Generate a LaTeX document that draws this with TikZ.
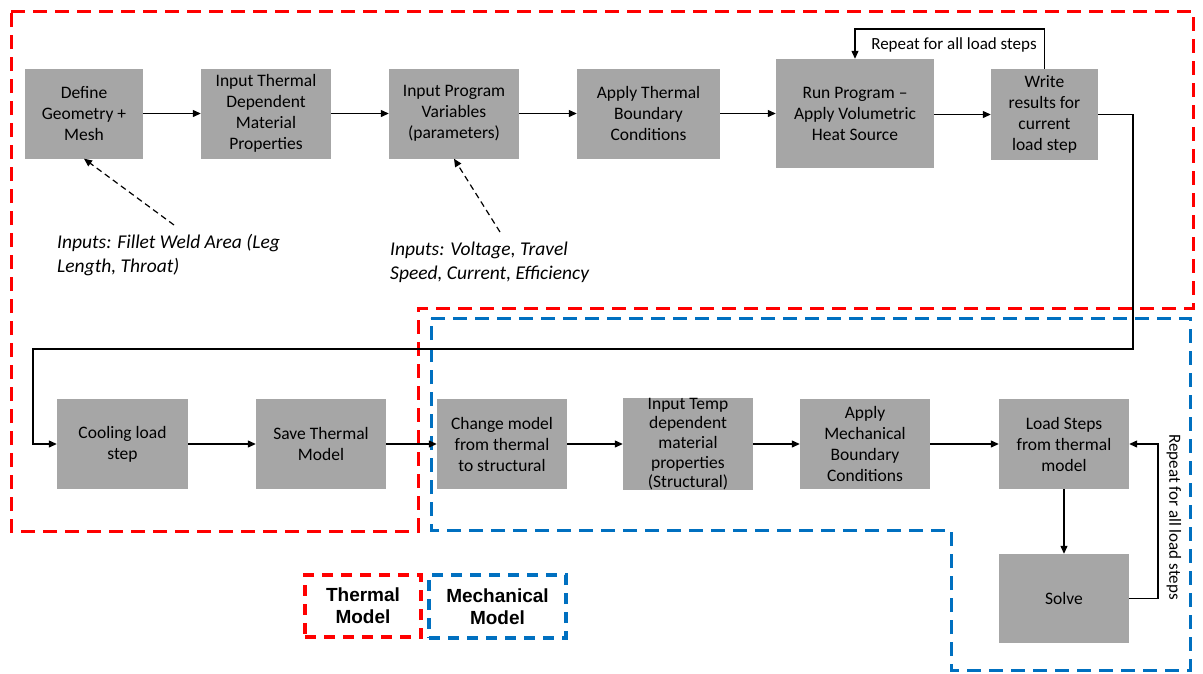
\documentclass[tikz,border=0pt]{standalone}
\usepackage{fontspec}
\setmainfont{Carlito}
\newfontfamily\legendfont{Liberation Sans}
\usetikzlibrary{arrows.meta}
\definecolor{boxgray}{HTML}{A6A6A6}
\definecolor{thermred}{HTML}{FF0000}
\definecolor{mechblue}{HTML}{0070C0}
\begin{document}
\begin{tikzpicture}[x=1pt,y=-1pt,
    stepbox/.style={fill=boxgray, minimum height=90pt, align=center, inner sep=0pt,
                    font=\fontsize{17.5}{21}\selectfont},
    flow/.style={-{Triangle[length=8pt,width=7pt]}, line width=1.2pt},
    region/.style={line width=3pt, dash pattern=on 14pt off 8pt},
    note/.style={align=left, inner sep=0pt, font=\fontsize{19.5}{24}\selectfont\itshape},
    legend/.style={draw, line width=3.2pt, dash pattern=on 11pt off 8pt, align=center,
                   font=\legendfont\bfseries\fontsize{19}{22}\selectfont}]
    \useasboundingbox (0,0) rectangle (1203,673);

    % model regions
    \draw[region, thermred] (11,11) -- (1193,11) -- (1193,308) -- (418,308) -- (418,531) -- (11,531) -- cycle;
    \draw[region, mechblue] (431,318) -- (1190,318) -- (1190,670) -- (951,670) -- (951,530) -- (431,530) -- cycle;

    % thermal steps
    \node[stepbox, minimum width=118pt] (define) at (84,113.5) {Define\\Geometry +\\Mesh};
    \node[stepbox, minimum width=130pt] (thermprop) at (266,113.5) {Input Thermal\\Dependent\\Material\\Properties};
    \node[stepbox, minimum width=130pt] (progvar) at (454,113.5) {Input Program\\Variables\\(parameters)};
    \node[stepbox, minimum width=143pt] (thermbc) at (648.5,113.5) {Apply Thermal\\Boundary\\Conditions};
    \node[stepbox, minimum width=158pt, minimum height=109pt] (runprog) at (855,113.5) {Run Program --\\Apply Volumetric\\Heat Source};
    \node[stepbox, minimum width=107pt, minimum height=91pt] (writeres) at (1044.5,114.5) {Write\\results for\\current\\load step};
    \node[stepbox, minimum width=131pt] (cooling) at (122.5,444) {Cooling load\\step};
    \node[stepbox, minimum width=130pt] (savethermal) at (321,444) {Save Thermal\\Model};

    % mechanical steps
    \node[stepbox, minimum width=130pt] (changemodel) at (502,444) {Change model\\from thermal\\to structural};
    \node[stepbox, minimum width=130pt, font=\fontsize{17.5}{19.6}\selectfont] (inputtemp) at (688,444) {Input Temp\\dependent\\material\\properties\\(Structural)};
    \node[stepbox, minimum width=130pt] (mechbc) at (865,444) {Apply\\Mechanical\\Boundary\\Conditions};
    \node[stepbox, minimum width=130pt] (loadsteps) at (1064,444) {Load Steps\\from thermal\\model};
    \node[stepbox, minimum width=130pt, minimum height=89pt] (solve) at (1064,598.5) {Solve};

    % inputs
    \node[note, anchor=north west] (weldnote) at (57,234) {Inputs: Fillet Weld Area (Leg\\Length, Throat)};
    \node[note, anchor=north west] (weldparams) at (390,242) {Inputs: Voltage, Travel\\Speed, Current, Efficiency};
    \coordinate (weldtip) at (174,225);
    \coordinate (paramtip) at (500,232);
    \draw[flow, dash pattern=on 6pt off 4pt] (weldtip) -- (define.south);
    \draw[flow, dash pattern=on 6pt off 4pt] (paramtip) -- (progvar.south);

    % main flow
    \draw[flow] (define) -- (thermprop);
    \draw[flow] (thermprop) -- (progvar);
    \draw[flow] (progvar) -- (thermbc);
    \draw[flow] (thermbc) -- (runprog);
    \draw[flow] (runprog.east |- writeres) -- (writeres);
    \coordinate (looptop) at (855,29);
    \draw[flow] (writeres.north) |- (looptop) -- (runprog.north);
    \node[font=\fontsize{17}{18}\selectfont] (repeattop) at (954,45) {Repeat for all load steps};

    \coordinate (turnright) at (1133,349);
    \coordinate (turnleft) at (33,349);
    \draw[flow] (writeres.east) -| (turnright) -- (turnleft) |- (cooling.west);
    \draw[flow] (cooling) -- (savethermal);
    \draw[flow] (savethermal) -- (changemodel);
    \draw[flow] (changemodel) -- (inputtemp);
    \draw[flow] (inputtemp) -- (mechbc);
    \draw[flow] (mechbc) -- (loadsteps);
    \draw[flow] (loadsteps) -- (solve);
    \coordinate (loopright) at (1158,444);
    \draw[flow] (solve.east) -| (loopright) -- (loadsteps.east);
    \node[rotate=-90, font=\fontsize{17}{18}\selectfont] (repeatside) at (1174,517) {Repeat for all load steps};

    % legend
    \node[legend, thermred, text=black, minimum width=116pt, minimum height=62pt] (thermlegend) at (363,606) {Thermal\\Model};
    \node[legend, mechblue, text=black, minimum width=137pt, minimum height=63pt] (mechlegend) at (497.5,606.5) {Mechanical\\Model};
\end{tikzpicture}
\end{document}
